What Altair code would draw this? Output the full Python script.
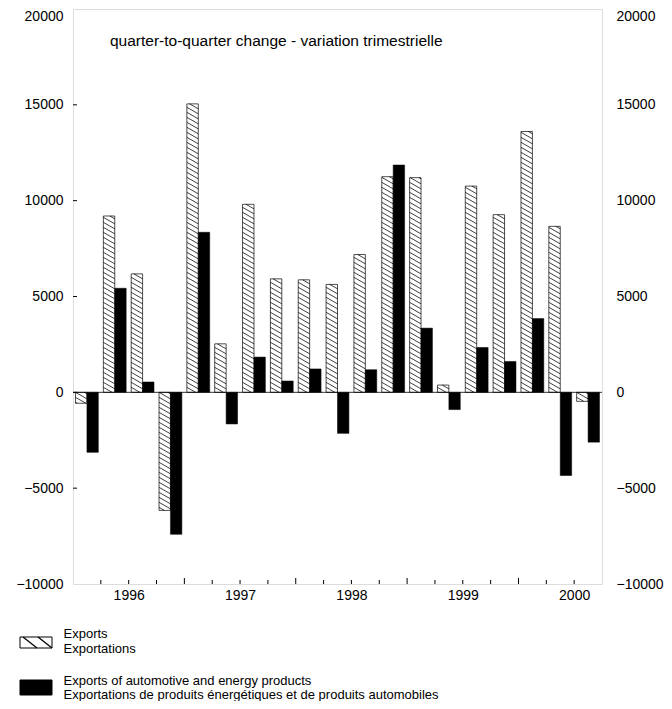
import altair as alt
import pandas as pd
import numpy as np

# ---------------- data ----------------
quarters = ["1996Q1", "1996Q2", "1996Q3", "1996Q4",
            "1997Q1", "1997Q2", "1997Q3", "1997Q4",
            "1998Q1", "1998Q2", "1998Q3", "1998Q4",
            "1999Q1", "1999Q2", "1999Q3", "1999Q4",
            "2000Q1", "2000Q2", "2000Q3"]
exports = [-570, 9200, 6180, -6160, 15050, 2530, 9810, 5920, 5870, 5630,
           7190, 11250, 11200, 380, 10760, 9270, 13610, 8660, -470]
auto_energy = [-3130, 5430, 540, -7410, 8350, -1650, 1840, 590, 1220, -2140,
               1180, 11860, 3350, -900, 2340, 1610, 3850, -4340, -2600]
years = ["1996", "1997", "1998", "1999", "2000"]
y_ticks = [-10000, -5000, 0, 5000, 10000, 15000, 20000]
title_text = "quarter-to-quarter change - variation trimestrielle"
legend_exports = ["Exports", "Exportations"]
legend_auto = ["Exports of automotive and energy products",
               "Exportations de produits énergétiques et de produits automobiles"]

# ---------------- layout / style ----------------
W, H = 529, 575
Y_DOM = [-10000, 20000]
N = len(quarters)
X_DOM = [0, N]
FONT = "Liberation Sans"
BAR_L, BAR_M, BAR_R = 0.09, 0.5, 0.91
HATCH_DROP_PX = 6.5
HATCH_GAP_PX = 5.0

px_per_unit_y = H / (Y_DOM[1] - Y_DOM[0])
drop_u = HATCH_DROP_PX / px_per_unit_y
gap_u = HATCH_GAP_PX / px_per_unit_y

idx = np.arange(N)
df = pd.DataFrame({
    "quarter": quarters,
    "exports": exports,
    "auto": auto_energy,
    "xl": idx + BAR_L,
    "xm": idx + BAR_M,
    "xr": idx + BAR_R,
    "base": 0,
})

# hatch segments clipped to each exports bar
segs = []
for i, v in enumerate(exports):
    lo, hi = min(0, v), max(0, v)
    xl, xr = i + BAR_L, i + BAR_M
    k0 = int(np.ceil(lo / gap_u))
    k1 = int(np.floor((hi + drop_u) / gap_u))
    for k in range(k0, k1 + 1):
        y0 = k * gap_u
        t0 = max(0.0, (y0 - hi) / drop_u)
        t1 = min(1.0, (y0 - lo) / drop_u)
        if t1 - t0 > 0.02:
            segs.append({
                "x": xl + t0 * (xr - xl), "y": y0 - t0 * drop_u,
                "x2": xl + t1 * (xr - xl), "y2": y0 - t1 * drop_u,
            })
hatch_df = pd.DataFrame(segs)

year_start = [quarters.index(y + "Q1") for y in years]
year_mid = [s + 2 for s in year_start]
year_bounds = [s for s in year_start if s > 0]
minor_ticks = [i for i in range(1, N) if i not in year_bounds]

xscale = alt.Scale(domain=X_DOM, nice=False, zero=False)
yscale = alt.Scale(domain=Y_DOM, nice=False, zero=False)

label_expr = ("[" + ",".join("'%s'" % y for y in years) + "][(datum.value - %d) / 4]"
              % year_mid[0])
top_baseline = {"condition": {"test": "datum.value >= %d" % Y_DOM[1], "value": "top"},
                "value": "middle"}

x_axis = alt.Axis(values=year_mid, labelExpr=label_expr, ticks=False, domain=False,
                  grid=False, title=None, labelPadding=4, labelFont=FONT,
                  labelFontSize=14, labelColor="black")
y_axis_left = alt.Axis(values=y_ticks, ticks=False, domain=False, grid=False, title=None,
                       labelPadding=10, labelFont=FONT, labelFontSize=14,
                       labelColor="black", format="d", labelBaseline=top_baseline)
y_axis_right = alt.Axis(values=y_ticks, ticks=False, domain=False, grid=False, title=None,
                        orient="right", labelPadding=14, labelFont=FONT,
                        labelFontSize=14, labelColor="black", format="d",
                        labelBaseline=top_baseline)


def X(field):
    return alt.X(field, scale=xscale, axis=x_axis)


def Y(field=None, datum=None):
    if datum is not None:
        return alt.Y(datum=datum, scale=yscale, axis=y_axis_left)
    return alt.Y(field, scale=yscale, axis=y_axis_left)


zero_line = alt.Chart(df).mark_rule(color="black", strokeWidth=0.8).encode(
    x=X("xl:Q"), y=Y(datum=0)
).transform_filter("datum.xl < 0")

zero_full = alt.Chart(pd.DataFrame({"a": [0]})).mark_rule(color="black", strokeWidth=0.8).encode(
    y=Y(datum=0)
)

white_bars = alt.Chart(df).mark_rect(fill="white", stroke="black", strokeWidth=0.7).encode(
    x=X("xl:Q"), x2="xm:Q", y=Y("exports:Q"), y2="base:Q",
)

hatch = alt.Chart(hatch_df).mark_rule(color="black", strokeWidth=0.75).encode(
    x=X("x:Q"), x2="x2:Q", y=Y("y:Q"), y2="y2:Q",
)

black_bars = alt.Chart(df).mark_rect(fill="black", stroke="black", strokeWidth=0.5).encode(
    x=X("xm:Q"), x2="xr:Q", y=Y("auto:Q"), y2="base:Q",
)

minor_df = pd.DataFrame({"t": minor_ticks})
major_df = pd.DataFrame({"t": year_bounds})
minor_rules = alt.Chart(minor_df).mark_rule(color="black", strokeWidth=1).encode(
    x=X("t:Q"), y=alt.value(H), y2=alt.value(H - 4)
)
major_rules = alt.Chart(major_df).mark_rule(color="black", strokeWidth=1).encode(
    x=X("t:Q"), y=alt.value(H), y2=alt.value(H - 6)
)
ytick_df = pd.DataFrame({"v": [v for v in y_ticks if Y_DOM[0] < v < Y_DOM[1]]})
left_ticks = alt.Chart(ytick_df).mark_rule(color="black", strokeWidth=1).encode(
    y=Y("v:Q"), x=alt.value(0), x2=alt.value(4)
)

title_mark = alt.Chart(pd.DataFrame({"t": [title_text]})).mark_text(
    align="left", baseline="middle", font=FONT, fontSize=15.5, color="black"
).encode(text="t:N", x=alt.value(37), y=alt.value(32))

# legend (drawn below the plot)
sw_x0, sw_x1 = -53, -21
one = pd.DataFrame({"a": [0]})
leg_hatch_box = alt.Chart(one).mark_rect(
    fill="white", stroke="black", strokeWidth=1
).encode(x=alt.value(sw_x0), x2=alt.value(sw_x1), y=alt.value(628), y2=alt.value(639))
leg_hatch_l1 = alt.Chart(one).mark_rule(color="black", strokeWidth=1.3).encode(
    x=alt.value(-50), x2=alt.value(-36), y=alt.value(628), y2=alt.value(639))
leg_hatch_l2 = alt.Chart(one).mark_rule(color="black", strokeWidth=1.3).encode(
    x=alt.value(-35), x2=alt.value(-21), y=alt.value(628), y2=alt.value(639))
leg_black_box = alt.Chart(one).mark_rect(
    fill="black", stroke="black", strokeWidth=1
).encode(x=alt.value(sw_x0), x2=alt.value(sw_x1), y=alt.value(671), y2=alt.value(686))


def leg_text(txt, ypos):
    return alt.Chart(pd.DataFrame({"t": [txt]})).mark_text(
        align="left", baseline="middle", font=FONT, fontSize=13, color="black"
    ).encode(text="t:N", x=alt.value(-9.5), y=alt.value(ypos))


legend_texts = [
    leg_text(legend_exports[0], 624.5), leg_text(legend_exports[1], 639.5),
    leg_text(legend_auto[0], 672), leg_text(legend_auto[1], 686),
]

main = alt.layer(
    white_bars, zero_full, hatch, black_bars, minor_rules, major_rules, left_ticks,
    title_mark, leg_hatch_box, leg_hatch_l1, leg_hatch_l2, leg_black_box, *legend_texts
)

right_axis = alt.Chart(pd.DataFrame({"v": y_ticks})).mark_rule(opacity=0).encode(
    y=alt.Y("v:Q", scale=yscale, axis=y_axis_right)
)

chart = alt.layer(main, right_axis).resolve_scale(y="independent").properties(
    width=W, height=H,
    autosize=alt.AutoSizeParams(type="none"),
    padding={"left": 65, "top": 1, "right": 62, "bottom": 117},
).configure_view(stroke="black", strokeWidth=1).configure(background="white")

chart.save("out.html", embed_options={"renderer": "svg", "actions": False})
